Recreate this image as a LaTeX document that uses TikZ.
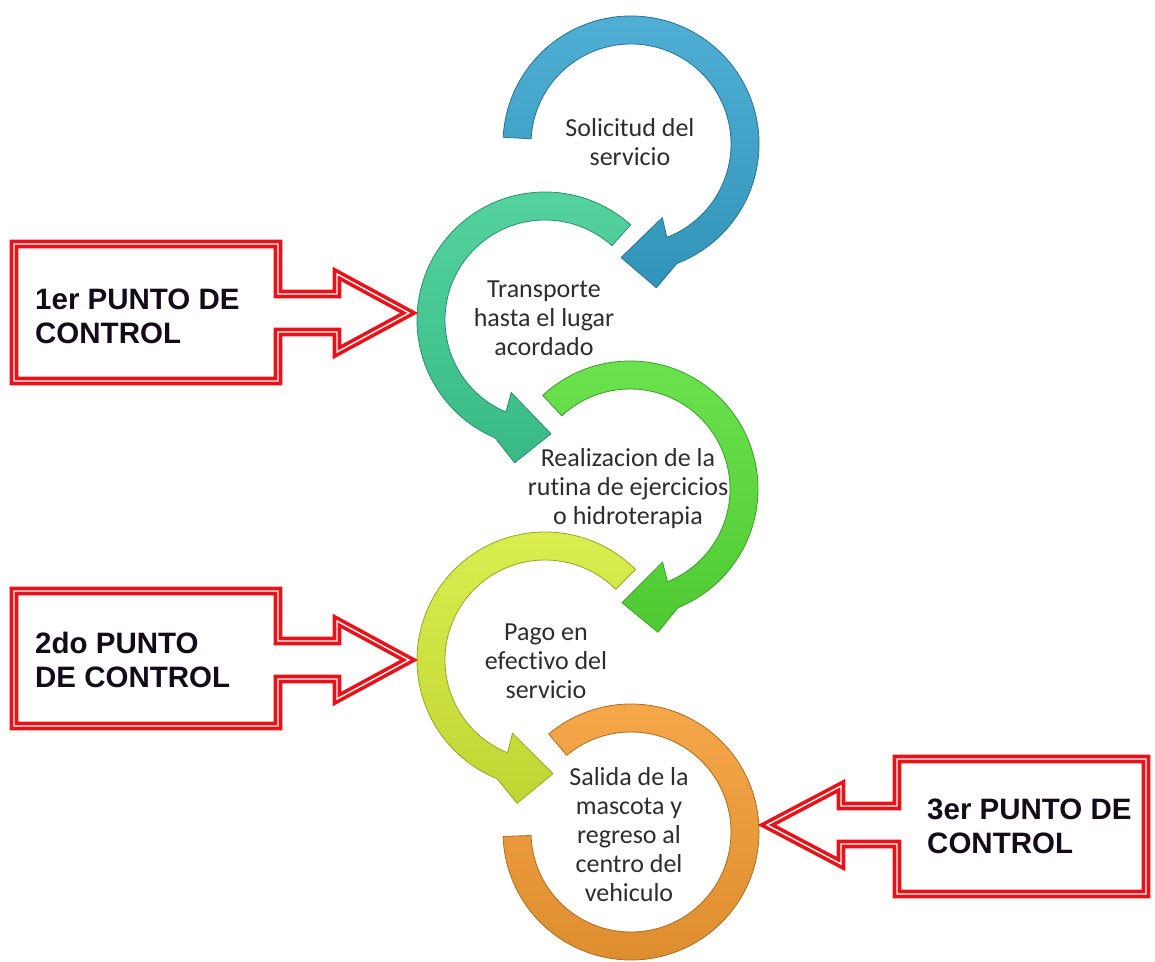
\documentclass[tikz,border=0pt]{standalone}
\usepackage{fontspec}
\newfontfamily\carl[Ligatures=NoCommon]{Carlito}
\newfontfamily\libs{Liberation Sans}
\definecolor{cblue}{RGB}{56,164,206}
\definecolor{cteal}{RGB}{62,206,148}
\definecolor{cgreen}{RGB}{88,224,56}
\definecolor{cyellow}{RGB}{214,236,56}
\definecolor{corange}{RGB}{245,156,50}
\definecolor{cred}{RGB}{232,18,24}
\definecolor{ctxt}{RGB}{45,45,45}
\definecolor{ptxt}{RGB}{20,10,25}
\begin{document}
\begin{tikzpicture}[x=1pt,y=1pt,
  ctext/.style={font=\carl\fontsize{26}{29}\selectfont, align=center, text=ctxt, inner sep=0pt},
  ptext/.style={font=\libs\bfseries\fontsize{29.5}{34}\selectfont, align=left, text=ptxt, inner sep=0pt, anchor=west},
  callout/.style={draw=cred, double=white, line width=3.6pt, double distance=1.4pt, line join=miter, miter limit=20},
  ring/.style={draw=#1!70!black, line width=0.8pt, top color=#1!88!white, bottom color=#1!90!black, line join=round}
]
\useasboundingbox (0,0) rectangle (1155,961);
\def\Ro{128}\def\Ri{100}\def\Rm{114}

% blue (clockwise)
\begin{scope}[shift={(631,817)}]
\path[ring=cblue] (177:\Ro) arc[start angle=177, end angle=-69, radius=\Ro]
  -- (-80:146) -- (-95:\Rm) -- (-67:80) -- (-69:\Ri)
  arc[start angle=-69, end angle=177, radius=\Ri] -- cycle;
\end{scope}
% teal (counterclockwise)
\begin{scope}[shift={(545,641)}]
\path[ring=cteal] (48:\Ro) arc[start angle=48, end angle=247, radius=\Ro]
  -- (258:146) -- (273:\Rm) -- (245:80) -- (247:\Ri)
  arc[start angle=247, end angle=48, radius=\Ri] -- cycle;
\end{scope}
% green (clockwise)
\begin{scope}[shift={(630,472)}]
\path[ring=cgreen] (133:\Ro) arc[start angle=133, end angle=-68, radius=\Ro]
  -- (-79:146) -- (-94:\Rm) -- (-66:80) -- (-68:\Ri)
  arc[start angle=-68, end angle=133, radius=\Ri] -- cycle;
\end{scope}
% yellow (counterclockwise)
\begin{scope}[shift={(545,301)}]
\path[ring=cyellow] (45:\Ro) arc[start angle=45, end angle=248, radius=\Ro]
  -- (259:146) -- (274:\Rm) -- (246:80) -- (248:\Ri)
  arc[start angle=248, end angle=45, radius=\Ri] -- cycle;
\end{scope}
% orange (clockwise, no head)
\begin{scope}[shift={(631,129)}]
\path[ring=corange] (130:\Ro) arc[start angle=130, end angle=-178, radius=\Ro]
  -- (-178:\Ri) arc[start angle=-178, end angle=130, radius=\Ri] -- cycle;
\end{scope}

\node[ctext] (s1) at (630,819) {Solicitud del\\servicio};
\node[ctext] (s2) at (544,643) {Transporte\\hasta el lugar\\acordado};
\node[ctext] (s3) at (628,472) {Realizacion de la\\rutina de ejercicios\\o hidroterapia};
\node[ctext] (s4) at (546,300) {Pago en\\efectivo del\\servicio};
\node[ctext] (s5) at (629,126) {Salida de la\\mascota y\\regreso al\\centro del\\vehiculo};

% callouts
\draw[callout] (14,717) -- (278,717) -- (278,667) -- (337,667) -- (337,687) -- (409,648)
  -- (337,609) -- (337,629) -- (278,629) -- (278,580) -- (14,580) -- cycle;
\draw[callout] (14,370) -- (278,370) -- (278,320) -- (337,320) -- (337,340) -- (409,301)
  -- (337,262) -- (337,282) -- (278,282) -- (278,235) -- (14,235) -- cycle;
\draw[callout] (1146,202) -- (897,202) -- (897,155) -- (841,155) -- (841,175) -- (767,136)
  -- (841,97) -- (841,117) -- (897,117) -- (897,67) -- (1146,67) -- cycle;

\node[ptext] (p1) at (35,645) {1er PUNTO DE\\CONTROL};
\node[ptext] (p2) at (35,301) {2do PUNTO\\DE CONTROL};
\node[ptext] (p3) at (927,135) {3er PUNTO DE\\CONTROL};
\end{tikzpicture}
\end{document}
